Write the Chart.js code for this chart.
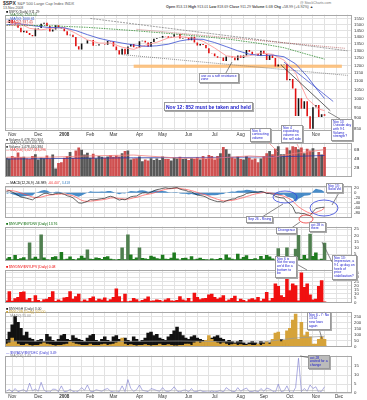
<!DOCTYPE html>
<html><head><meta charset="utf-8">
<script src="https://cdn.jsdelivr.net/npm/chart.js@4.4.1/dist/chart.umd.min.js"></script>
<style>
html,body{margin:0;padding:0;background:#fff;}
#wrap{position:relative;width:367px;height:400px;overflow:hidden;font-family:"Liberation Sans",Arial,sans-serif;background:#fff;}
canvas{position:absolute;left:0;}
.t{position:absolute;white-space:nowrap;line-height:1;color:#333;}
.box{position:absolute;background:#fff;border:1px solid #999;color:#1a1acc;font-size:3.4px;line-height:3.7px;padding:0.5px 1px;box-shadow:1px 1px 0 #aaa;white-space:nowrap;z-index:5;}
.leg{position:absolute;left:6px;font-size:3.4px;line-height:3.3px;color:#333;white-space:nowrap;z-index:4;}
</style></head><body><div id="wrap">
<div class="t" style="left:3px;top:1px;font-size:5px;"><b>$SPX</b> <span style="font-size:4px;color:#555">S&amp;P 500 Large Cap Index  INDX</span></div>
<div class="t" style="left:3px;top:6.5px;font-size:3.5px;color:#555">13-Nov-2008</div>
<div class="t" style="left:300px;top:1.5px;font-size:3.5px;color:#777">@ StockCharts.com</div>
<div class="t" style="left:166px;top:5.5px;font-size:3.6px;color:#444"><b>Open</b> 853.13 <b>High</b> 913.01 <b>Low</b> 818.69 <b>Close</b> 911.29 <b>Volume</b> 6.6B <b>Chg</b> +58.99 (+6.92%) &#9650;</div>

<canvas id="c1" width="367" height="128" style="top:10px"></canvas>
<canvas id="c2" width="367" height="43" style="top:138px"></canvas>
<canvas id="c3" width="367" height="41" style="top:181px"></canvas>
<canvas id="c4" width="367" height="43" style="top:222px"></canvas>
<canvas id="c5" width="367" height="42" style="top:265px"></canvas>
<canvas id="c6" width="367" height="44" style="top:307px"></canvas>
<canvas id="c7" width="367" height="49" style="top:351px"></canvas>
<canvas id="ov" width="367" height="400" style="top:0;z-index:3;pointer-events:none"></canvas>

<div class="leg" style="top:11px">
<div><span style="color:#000">&#9632;</span> $SPX (Daily) 911.29</div>
<div style="color:#3a7a3a">&#8212; MA(200) 1243.53</div>
<div style="color:#3355cc">&#8212; MA(50) 1000.61</div>
<div style="color:#cc3333">&#8212; MA(20) 937.45</div>
<div style="color:#ff8888">&#8212; MA(10) 917.79</div>
</div>
<div class="leg" style="top:139px">
<div><span style="color:#555">&#9632;</span> Volume 6,478,250,304</div>
<div style="color:#555">&#8212; MA(50) 6,063,405,120</div>
<div style="color:#333">&#9632; Volume 1,478,410,384</div>
<div style="color:#e33">&#8212; MA(200) 5,027,343,296</div>
</div>
<div class="leg" style="top:182px"><span style="color:#000">&#8212; MACD(12,26,9) -56.989</span>, <span style="color:#e33">-60.407</span>, <span style="color:#3a7fc0">3.418</span></div>
<div class="leg" style="top:223px;color:#060"><span>&#9632;</span> $NYUPV:$NYDNV (Daily) 13.76</div>
<div class="leg" style="top:266px;color:#e00"><span>&#9632;</span> $NYDNV:$NYUPV (Daily) 0.08</div>
<div class="leg" style="top:308px">
<div><span style="color:#000">&#9632;</span> $NYHGH (Daily) 3.00</div>
<div style="color:#c9a030">&#9632; $NYLOW (Daily) 502.00</div>
<div style="color:#888">&#8212; MA(50) 55.00</div>
</div>
<div class="leg" style="top:352px">
<div style="color:#33c">&#8212; $NYADV:$NYDEC (Daily) 3.49</div>
<div style="color:#888">&#8212; MA(200) 1.43</div>
</div>

<div class="box" style="left:164px;top:102px;font-size:5px;line-height:6px;font-weight:bold;color:#22c">Nov 12: 852 must be taken and held</div>
<div class="box" style="left:199px;top:73px;">use as a soft resistance<br>zone</div>
<div class="box" style="left:331px;top:119px;">Nov 13<br>Outside day<br>with 9:1<br>Volume<br>strength?</div>
<div class="box" style="left:250px;top:128px;">Nov 6<br>contracting<br>volume</div>
<div class="box" style="left:281px;top:125px;">Nov 4<br>expanding<br>volume on<br>the sell side</div>
<div class="box" style="left:326px;top:183px;">Nov 13:<br>Solid Vol</div>
<div class="box" style="left:246px;top:216px;">Sep 26 - Rising</div>
<div class="box" style="left:276px;top:227px;">Divergence</div>
<div class="box" style="left:309px;top:222px;">oct 28 is<br>there</div>
<div class="box" style="left:332px;top:255px;">Nov 13:<br>Impressive, a<br>9:1 up day on<br>heels of<br>price<br>stabilization?</div>
<div class="box" style="left:275px;top:256px;">Nov 6 is<br>Not the way<br>we'd like a<br>bottom to<br>be</div>
<div class="box" style="left:307px;top:312px;">Nov 6 - 7: No<br>13:52<br>new lows<br>again</div>
<div class="box" style="left:308px;top:355px;background:#bbb;">oct 28<br>waited for a<br>change</div>

<script>
// ---------------- DATA ----------------
const dates = [
'2007-10-25','2007-10-29','2007-11-01','2007-11-05','2007-11-08','2007-11-12','2007-11-15','2007-11-19','2007-11-21','2007-11-26','2007-11-29',
'2007-12-03','2007-12-06','2007-12-10','2007-12-13','2007-12-17','2007-12-20','2007-12-24','2007-12-27','2007-12-31',
'2008-01-03','2008-01-07','2008-01-10','2008-01-14','2008-01-17','2008-01-22','2008-01-24','2008-01-28','2008-01-31',
'2008-02-04','2008-02-07','2008-02-11','2008-02-14','2008-02-19','2008-02-21','2008-02-25','2008-02-28',
'2008-03-03','2008-03-06','2008-03-10','2008-03-13','2008-03-17','2008-03-20','2008-03-24','2008-03-27','2008-03-31',
'2008-04-03','2008-04-07','2008-04-10','2008-04-14','2008-04-17','2008-04-21','2008-04-24','2008-04-28',
'2008-05-01','2008-05-05','2008-05-08','2008-05-12','2008-05-15','2008-05-19','2008-05-22','2008-05-27','2008-05-29',
'2008-06-02','2008-06-05','2008-06-09','2008-06-12','2008-06-16','2008-06-19','2008-06-23','2008-06-26','2008-06-30',
'2008-07-03','2008-07-07','2008-07-10','2008-07-14','2008-07-17','2008-07-21','2008-07-24','2008-07-28','2008-07-31',
'2008-08-04','2008-08-07','2008-08-11','2008-08-14','2008-08-18','2008-08-21','2008-08-25','2008-08-28',
'2008-09-02','2008-09-04','2008-09-08','2008-09-11','2008-09-15','2008-09-18','2008-09-22','2008-09-25','2008-09-29',
'2008-10-02','2008-10-06','2008-10-09','2008-10-13','2008-10-16','2008-10-20','2008-10-23','2008-10-27','2008-10-30',
'2008-11-03','2008-11-06','2008-11-10','2008-11-13',
'2008-11-17','2008-11-20','2008-11-24','2008-11-27','2008-12-01','2008-12-04','2008-12-08','2008-12-11','2008-12-15'];

const monthTicks = {'2007-11-01':'Nov','2007-12-03':'Dec','2008-01-03':'2008','2008-02-04':'Feb','2008-03-03':'Mar','2008-04-03':'Apr','2008-05-01':'May','2008-06-02':'Jun','2008-07-03':'Jul','2008-08-04':'Aug','2008-09-02':'Sep','2008-10-02':'Oct','2008-11-03':'Nov','2008-12-01':'Dec'};

const spxClose = [1514,1540,1509,1502,1475,1439,1451,1433,1417,1407,1469,
1472,1507,1515,1488,1445,1460,1496,1476,1468,
1447,1416,1420,1401,1333,1310,1352,1353,1378,
1380,1336,1339,1348,1348,1343,1371,1367,
1331,1304,1273,1315,1276,1330,1349,1325,1322,
1369,1373,1360,1329,1365,1388,1395,1397,
1409,1407,1394,1404,1423,1426,1390,1395,1398,
1377,1404,1361,1339,1350,1342,1318,1283,1280,
1262,1252,1253,1229,1260,1261,1253,1235,1267,
1249,1267,1305,1293,1278,1277,1266,1300,
1277,1236,1268,1249,1193,1206,1207,1209,1106,
1114,1057,910,1003,946,986,909,848,954,
966,905,919,911];

const ma200 = [['2007-10-25',1495],['2007-12-13',1492],['2008-01-31',1478],['2008-03-27',1452],['2008-05-22',1422],['2008-07-17',1388],['2008-08-28',1352],['2008-09-25',1322],['2008-10-23',1275],['2008-11-13',1242]];
const ma50 = [['2007-10-25',1498],['2007-11-08',1508],['2007-11-26',1492],['2007-12-13',1478],['2008-01-03',1474],['2008-01-17',1452],['2008-01-31',1420],['2008-02-14',1392],['2008-02-28',1372],['2008-03-13',1356],['2008-03-27',1342],['2008-04-10',1332],['2008-04-24',1336],['2008-05-08',1348],['2008-05-22',1372],['2008-06-05',1386],['2008-06-19',1384],['2008-07-03',1360],['2008-07-17',1330],['2008-07-31',1300],['2008-08-14',1276],['2008-08-28',1266],['2008-09-11',1270],['2008-09-25',1258],['2008-10-09',1210],['2008-10-23',1130],['2008-11-06',1040],['2008-11-13',1001]];
const ma20 = [['2007-10-25',1530],['2007-11-08',1516],['2007-11-21',1470],['2007-12-06',1458],['2007-12-20',1472],['2008-01-03',1476],['2008-01-17',1430],['2008-01-31',1380],['2008-02-14',1356],['2008-02-28',1356],['2008-03-13',1326],['2008-03-27',1310],['2008-04-10',1340],['2008-04-24',1362],['2008-05-08',1395],['2008-05-22',1405],['2008-06-05',1395],['2008-06-19',1370],['2008-07-03',1320],['2008-07-17',1265],['2008-07-31',1255],['2008-08-14',1265],['2008-08-28',1285],['2008-09-11',1275],['2008-09-25',1235],['2008-10-09',1150],['2008-10-23',1000],['2008-11-06',945],['2008-11-13',937]];
const priceTicks = [850,900,950,1000,1050,1100,1150,1200,1250,1300,1350,1400,1450,1500,1550];

const volume = [4.2,4.0,4.6,4.3,5.4,4.3,4.4,4.0,3.9,4.6,5.0,
3.8,4.2,4.1,4.7,4.0,4.9,1.8,3.0,3.2,
4.2,4.6,5.5,4.2,5.8,6.5,6.0,4.9,5.3,
4.2,5.1,4.1,4.6,4.4,4.2,4.5,4.8,
4.4,4.7,4.5,5.2,5.7,5.8,3.8,4.0,4.1,
4.5,3.4,3.8,3.6,4.1,3.7,4.0,3.7,
4.5,3.9,3.9,3.6,4.2,4.0,4.4,3.9,4.0,
3.7,4.1,3.9,4.3,3.8,4.6,3.9,4.8,4.6,
3.8,4.6,5.2,6.6,6.1,5.1,4.3,4.0,4.5,
3.9,3.8,4.6,4.2,3.8,4.0,3.2,4.0,
4.6,5.2,5.7,5.0,6.2,6.8,5.0,5.0,6.5,
5.9,6.8,6.6,6.1,6.5,5.2,6.2,5.8,6.3,
4.2,5.5,4.9,6.6];
const volMA50 = [['2007-10-25',4.3],['2007-12-13',4.3],['2008-01-31',4.6],['2008-03-27',4.8],['2008-05-22',4.1],['2008-07-03',4.1],['2008-08-14',4.6],['2008-09-11',4.3],['2008-10-09',5.2],['2008-11-13',6.0]];
const volMA200 = [['2007-10-25',3.9],['2008-03-27',4.2],['2008-07-31',4.3],['2008-10-09',4.5],['2008-11-13',4.7]];
const volTicks = [2,4,6];

const macd = [5,8,2,-3,-10,-17,-19,-22,-25,-28,-20,
-16,-9,-3,-2,-6,-7,-3,-2,-3,
-6,-12,-15,-20,-30,-40,-41,-38,-34,
-27,-28,-27,-25,-23,-22,-17,-14,
-17,-23,-29,-26,-28,-22,-16,-14,-13,
-6,-1,0,-2,2,8,12,14,
17,19,17,17,19,20,14,11,9,
4,3,-3,-9,-11,-13,-17,-24,-28,
-32,-35,-35,-37,-32,-28,-25,-24,-17,
-14,-10,-3,-1,1,2,2,5,
3,-3,-3,-6,-14,-18,-20,-21,-35,
-43,-55,-80,-79,-82,-82,-87,-90,-75,
-62,-60,-58,-57];
const macdSignal = [10,9,8,6,3,-1,-5,-9,-13,-17,-19,
-19,-17,-14,-11,-9,-8,-7,-6,-5,
-5,-7,-9,-12,-17,-24,-30,-33,-34,
-33,-32,-31,-29,-28,-26,-24,-21,
-20,-21,-23,-24,-25,-25,-23,-20,-18,
-15,-11,-8,-6,-4,-1,3,7,
10,13,15,16,17,18,17,15,13,
11,8,5,1,-3,-6,-9,-13,-18,
-22,-26,-29,-32,-32,-31,-30,-28,-25,
-22,-19,-15,-12,-8,-5,-3,-1,
1,0,-1,-2,-5,-8,-11,-14,-19,
-25,-33,-45,-55,-63,-70,-76,-81,-81,
-78,-73,-69,-60];
const macdHist = [-5,-1,-6,-9,-13,-16,-14,-13,-12,-11,-1,
3,8,11,9,3,1,4,4,2,
-1,-5,-6,-8,-13,-16,-11,-5,0,
6,4,4,4,5,4,7,7,
3,-2,-6,-2,-3,3,7,6,5,
9,10,8,4,6,9,9,7,
7,6,2,1,2,2,-3,-4,-4,
-7,-5,-8,-10,-8,-7,-8,-11,-10,
-10,-9,-6,-5,0,3,5,4,8,
8,9,12,11,9,7,5,6,
2,-3,-2,-4,-9,-10,-9,-7,-16,
-18,-22,-35,-24,-19,-12,-11,-9,6,
16,13,11,3];
const macdTicks = [-80,-60,-40,-20,0,20];

const upDownRatio = [1.2,2.5,0.6,4.0,0.8,1.5,2.2,0.5,14.0,1.3,2.6,
1.0,20.5,2.0,0.6,0.5,2.4,3.0,0.7,6.5,
0.6,1.0,2.8,0.9,0.4,1.5,3.5,1.8,8.5,
1.0,0.8,2.1,1.6,0.9,2.5,3.0,1.0,
0.6,0.4,0.8,10.0,0.7,20.5,4.5,0.9,2.0,
10.0,1.7,1.2,0.8,3.5,2.6,1.5,1.0,
4.2,1.1,0.9,1.8,6.0,1.2,0.5,1.6,1.9,
0.7,3.0,0.6,1.0,1.8,0.8,0.6,0.4,1.2,
0.6,0.9,1.6,0.4,4.5,2.0,1.0,0.7,5.0,
1.0,2.4,3.8,0.9,0.8,1.5,0.6,3.2,
1.0,4.0,2.8,1.3,0.2,9.5,0.8,1.2,10.0,
0.3,0.3,9.0,20.0,0.8,4.0,1.2,21.0,3.2,
6.0,0.2,1.0,13.76];
const upDownTicks = [0,5,10,15,20,25];

const downUpRatio = [2.0,13.0,1.5,4.5,6.0,12.0,12.5,3.0,5.0,1.0,8.0,
2.5,1.0,3.5,4.0,6.0,13.0,1.2,3.0,1.5,
5.5,6.0,13.0,4.0,7.0,10.0,1.0,3.0,1.5,
5.0,6.5,2.0,4.0,3.0,5.5,1.5,3.5,
6.0,16.0,7.0,1.0,10.0,1.0,1.5,5.0,3.5,
1.0,2.5,4.0,6.5,1.5,2.0,3.0,2.5,
1.0,3.0,4.5,2.0,1.5,2.5,7.0,3.0,2.0,
5.0,1.0,11.0,6.0,3.5,4.5,5.0,9.0,10.0,
6.0,4.0,5.5,8.0,1.5,3.0,5.0,7.5,1.2,
4.0,2.5,1.0,3.5,4.5,3.0,6.0,1.5,
4.0,12.0,2.0,5.0,22.0,19.0,8.0,6.0,36.0,
14.0,22.0,20.0,2.0,35.0,18.0,22.0,9.0,3.0,
4.0,19.0,26.0,0.07];
const downUpTicks = [0,5,10,15,20,25,30,35];

const newHighs = [60,120,180,250,200,150,90,120,70,60,40,
50,60,40,100,80,50,40,60,90,
100,60,50,90,70,60,50,40,70,
90,100,50,40,60,80,50,40,
80,90,60,40,70,50,40,80,60,
40,50,70,110,120,90,100,70,
60,50,80,100,130,160,120,90,70,
60,80,90,70,60,50,40,60,70,
80,90,70,60,40,50,40,30,40,
50,30,20,30,40,30,20,40,
30,20,30,40,50,20,60,30,20,
15,10,5,5,5,5,3,3,5,
8,3,3,3];
const newLows = [20,30,70,40,20,10,10,20,10,5,10,
10,20,30,20,15,10,5,10,10,
15,20,40,30,20,15,10,10,10,
20,10,10,10,15,20,10,15,
20,30,40,70,20,10,15,10,5,
10,10,15,10,5,10,10,20,
10,10,15,10,5,5,10,10,20,
20,10,30,40,30,40,50,90,60,
40,30,20,30,20,10,15,20,10,
15,10,10,15,10,10,20,10,
20,40,20,60,110,120,40,50,130,
150,220,270,60,200,90,120,80,20,
20,60,80,60];
const hlMA = [['2007-10-25',45],['2008-01-31',40],['2008-05-22',45],['2008-08-28',35],['2008-10-09',70],['2008-11-13',85]];
const hlTicks = [0,50,100,150,200,250];

const advDecl = [1.0,2.0,0.6,2.5,0.7,1.4,1.8,0.5,5.5,1.2,2.2,
1.0,6.0,1.6,0.6,0.5,2.2,2.0,0.8,4.0,
0.7,1.0,2.0,1.0,0.4,1.3,3.0,1.5,4.5,
1.0,0.8,1.8,1.4,1.0,2.0,2.5,1.0,
0.6,0.4,0.8,4.0,0.8,7.5,2.5,1.0,1.8,
4.5,1.5,1.2,0.8,2.5,2.0,1.4,1.0,
3.0,1.1,0.9,1.6,3.5,1.2,0.5,1.5,1.7,
0.7,2.5,0.6,1.0,1.6,0.8,0.6,0.4,1.2,
0.6,0.9,1.5,0.5,3.0,1.8,1.0,0.7,3.0,
1.0,2.0,2.8,0.9,0.8,1.4,0.6,2.5,
1.0,2.8,2.2,1.2,0.3,5.0,0.8,1.2,4.0,
0.4,0.3,3.0,19.5,0.8,2.5,1.0,4.5,2.5,
3.5,0.3,1.0,3.49];
const adMA = [['2007-10-25',1.4],['2008-03-27',1.35],['2008-07-31',1.3],['2008-10-09',1.4],['2008-11-13',1.43]];
const adTicks = [0,5,10,15];

// ---------------- RENDER ----------------
const GRID = '#e2e2e2';
const ANNO = {}, UNDER = {};
Chart.register({
  id:'frame',
  beforeDatasetsDraw(c){ const f = UNDER[c.canvas.id]; if(f) f(c); },
  afterDatasetsDraw(c){
    const a=c.chartArea, x=c.ctx; x.save(); x.strokeStyle='#a8a8a8'; x.lineWidth=1;
    x.strokeRect(Math.round(a.left)+0.5, Math.round(a.top)+0.5, Math.round(a.right-a.left)-1, Math.round(a.bottom-a.top)-1); x.restore();
    const f = ANNO[c.canvas.id]; if(f) f(c);
  }
});
const pts = arr => arr.map(p => ({x:p[0], y:p[1]}));
function xScale(showLabels){
  return {type:'category', offset:true,
    afterFit:s=>{s.height = showLabels?7:0;},
    grid:{offset:false, drawTicks:false, color:ctx=> (ctx.index%4===2 ? GRID : 'rgba(0,0,0,0)'), lineWidth:1},
    border:{display:false},
    ticks:{display:showLabels, autoSkip:false, maxRotation:0, padding:1, color:'#333',
      font:ctx=>({size:4.6, family:'Liberation Sans', weight: (ctx.tick && ctx.tick.label==='2008')?'bold':'normal'}),
      callback:(v,i)=> monthTicks[dates[i]] || ''}};
}
function yScale(extra, ticks, fmt){
  return Object.assign({position:'right', afterFit:s=>{s.width=15;},
    grid:{color:GRID, drawTicks:false}, border:{display:false},
    afterBuildTicks:s=>{ s.ticks = ticks.map(v=>({value:v})); },
    ticks:{font:{size:4.3, family:'Liberation Sans'}, color:'#333', padding:2, autoSkip:false,
      callback: v => fmt ? fmt(v) : String(v)}}, extra);
}
function make(id, datasets, y, showX){
  return new Chart(document.getElementById(id), {
    type:'bar',
    data:{labels:dates, datasets},
    options:{responsive:false, animation:false, events:[],
      layout:{padding:{left:5,right:0,top:0,bottom:0}},
      plugins:{legend:{display:false}, tooltip:{enabled:false}},
      scales:{x:xScale(showX), y}}
  });
}

// price panel
const candles = spxClose.map((c,i)=>[i? spxClose[i-1] : c, c]);
const candleCol = spxClose.map((c,i)=> (i && c < spxClose[i-1]) ? '#e01010' : '#111');
UNDER.c1 = c => {
  const X=c.scales.x, Y=c.scales.y, g=c.ctx; g.save();
  g.fillStyle='rgba(252,186,112,0.85)';
  const x0=X.getPixelForValue(44), x1=X.getPixelForValue(116), y0=Y.getPixelForValue(1205), y1=Y.getPixelForValue(1184);
  g.fillRect(x0,y0,x1-x0,y1-y0); g.restore();
};
const trend = [
  {a:[29,1552], b:[118,1300], col:'#777', dash:[2,1]},
  {a:[45,1462], b:[117,1318], col:'#b05050', dash:[1,1]},
  {a:[40,1273], b:[118,1136], col:'#666', dash:[1,1]},
  {a:[95,1202], b:[112,936], col:'#222', dash:[]},
  {a:[96,1222], b:[113,985], col:'#3344cc', dash:[]}
];
ANNO.c1 = c => {
  const X=c.scales.x, Y=c.scales.y, g=c.ctx; g.save(); g.lineWidth=0.7;
  trend.forEach(t=>{ g.strokeStyle=t.col; g.setLineDash(t.dash); g.beginPath();
    g.moveTo(X.getPixelForValue(t.a[0]),Y.getPixelForValue(t.a[1])); g.lineTo(X.getPixelForValue(t.b[0]),Y.getPixelForValue(t.b[1])); g.stroke(); });
  g.restore();
};
make('c1', [
  {type:'line', data:pts(ma200), borderColor:'#2e8b2e', borderWidth:0.8, borderDash:[1.5,1], pointRadius:0, order:1},
  {type:'line', data:pts(ma50), borderColor:'#3a4fd0', borderWidth:0.8, pointRadius:0, order:1},
  {type:'line', data:pts(ma20), borderColor:'#ff9a9a', borderWidth:0.9, pointRadius:0, order:1},
  {data:candles, backgroundColor:candleCol, barPercentage:0.55, categoryPercentage:1, order:2}
], yScale({type:'logarithmic', min:838, max:1585}, priceTicks), true);

// volume panel
const volCol = spxClose.map((c,i)=> (i && c < spxClose[i-1]) ? 'rgba(200,50,50,0.85)' : 'rgba(70,70,70,0.9)');
make('c2', [
  {type:'line', data:pts(volMA50), borderColor:'#f08080', borderWidth:0.8, pointRadius:0, order:1},
  {type:'line', data:pts(volMA200), borderColor:'#2233aa', borderWidth:0.7, pointRadius:0, order:1},
  {data:volume, backgroundColor:volCol, barPercentage:0.95, categoryPercentage:1, order:2}
], yScale({min:0, max:7.6}, volTicks, v=>v+'B'), false);

// MACD
make('c3', [
  {type:'line', data:macd, borderColor:'#222', borderWidth:0.7, pointRadius:0, order:1},
  {type:'line', data:macdSignal, borderColor:'#ff5050', borderWidth:0.7, pointRadius:0, order:1},
  {type:'line', data:macdHist, borderWidth:0, backgroundColor:'rgba(40,120,190,0.85)', fill:'origin', pointRadius:0, order:2}
], yScale({min:-97, max:28}, macdTicks), false);

// up/down volume ratio
make('c4', [
  {data:upDownRatio, backgroundColor:upDownRatio.map(v=> v>7 ? '#4f7f4f' : '#1e7a1e'), barPercentage:1, categoryPercentage:1}
], yScale({min:0, max:27}, upDownTicks), false);

// down/up volume ratio
make('c5', [
  {data:downUpRatio, backgroundColor:'#f01010', barPercentage:1, categoryPercentage:1}
], yScale({min:0, max:39}, downUpTicks), false);

// new highs / lows
make('c6', [
  {type:'line', data:pts(hlMA), borderColor:'#999', borderWidth:0.7, pointRadius:0, order:0},
  {data:newLows, backgroundColor:'#d6a33a', barPercentage:1, categoryPercentage:1, grouped:false, order:1},
  {data:newHighs, backgroundColor:'#111', barPercentage:1, categoryPercentage:1, grouped:false, order:2}
], yScale({min:0, max:290}, hlTicks), false);

// adv / decl
make('c7', [
  {type:'line', data:pts(adMA), borderColor:'#aaa', borderWidth:0.6, pointRadius:0},
  {type:'line', data:advDecl, borderColor:'#7777cc', borderWidth:0.6, pointRadius:0}
], yScale({min:0, max:21}, adTicks), true);

// overlay: callout connectors & ellipses
const ov = document.getElementById('ov').getContext('2d');
ov.lineWidth = 0.7;
const seg = (col,x0,y0,x1,y1)=>{ ov.strokeStyle=col; ov.beginPath(); ov.moveTo(x0,y0); ov.lineTo(x1,y1); ov.stroke(); };
seg('#555',222,80,232,62);
seg('#555',340,119,328,112);
seg('#e88',262,136,278,152); seg('#e88',292,134,300,150);
seg('#555',340,191,332,205);
seg('#555',262,217,283,204);
seg('#555',290,229,300,222);
seg('#555',332,262,322,242);
seg('#555',293,262,307,270);
seg('#555',318,325,322,339);
seg('#555',322,360,300,356);
ov.strokeStyle='#3344dd'; ov.lineWidth=0.8;
ov.beginPath(); ov.ellipse(285,197,12,6,0,0,Math.PI*2); ov.stroke();
ov.beginPath(); ov.ellipse(324,208,14,8,0,0,Math.PI*2); ov.stroke();
ov.strokeStyle='#e33';
ov.beginPath(); ov.ellipse(306,219,7,4,0,0,Math.PI*2); ov.stroke();
</script>
</div></body></html>
